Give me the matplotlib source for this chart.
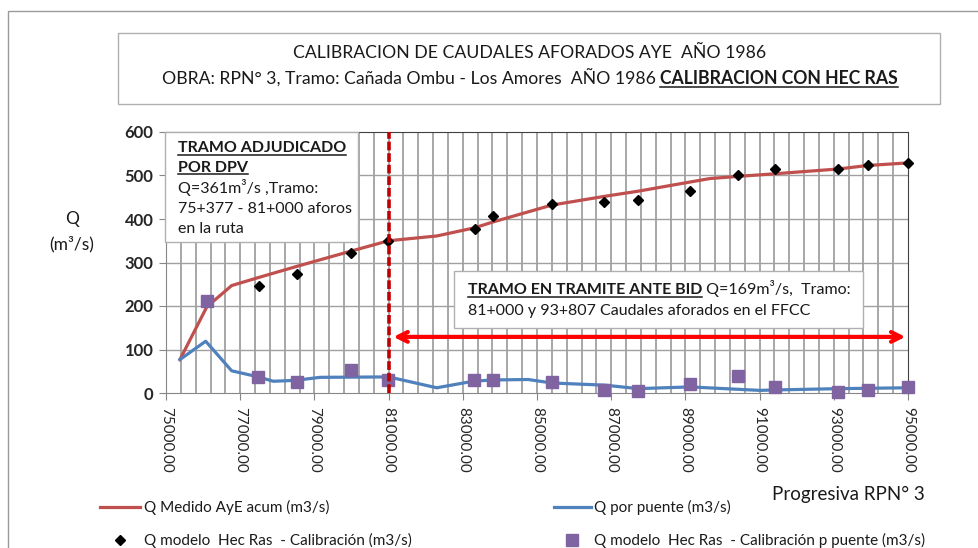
import numpy as np
import matplotlib
matplotlib.use('Agg')
import matplotlib.pyplot as plt
from matplotlib.patches import Rectangle
from matplotlib.lines import Line2D
from matplotlib.ticker import FormatStrFormatter

W, H = 979, 548
plt.rcParams['font.family'] = ['Lato', 'DejaVu Sans']

# Q Medido AyE acumulado
prog_medido = [75377, 76100, 76770, 77515, 78523, 79978, 81000, 82300, 83329, 83806,
               85400, 86814, 87731, 89124, 89663, 90426, 91415, 93121, 93913, 95000]
q_medido = [77, 198, 247, 266, 291, 326, 350, 361, 380, 393,
            432, 452, 464, 485, 493, 498, 504, 515, 523, 529]

# Q por puente
prog_puente = [75377, 76070, 76770, 77488, 77892, 78477, 79151, 81000, 82296, 83280,
               83820, 84760, 85400, 86833, 87731, 89124, 91011, 91415, 93121, 95000]
q_puente = [77, 119, 51, 37, 27, 29, 36, 37, 12, 27,
            30, 31, 23, 18, 10, 14, 6, 7, 10, 12]

# Q modelo Hec Ras - Calibracion
prog_cal = [77515, 78523, 79978, 80992, 83329, 83806, 85400, 86814, 87731, 89124,
            90426, 91415, 93121, 93913, 95000]
q_cal = [246, 273, 322, 349, 378, 408, 435, 440, 444, 464,
         500, 514, 514, 523, 529]

# Q modelo Hec Ras - Calibracion p puente
prog_cal_p = [76097, 77488, 78544, 79978, 80992, 83310, 83806, 85400, 86814, 87731,
              89124, 90410, 91415, 93121, 93913, 95000]
q_cal_p = [211, 37, 25, 52, 29, 31, 31, 26, 8, 5,
           21, 38, 14, 2, 8, 14]

lbl_medido = 'Q Medido AyE acum (m3/s)'
lbl_puente = 'Q por puente (m3/s)'
lbl_cal = 'Q modelo  Hec Ras  - Calibración (m3/s)'
lbl_cal_p = 'Q modelo  Hec Ras  - Calibración p puente (m3/s)'

fig = plt.figure(figsize=(W / 100, H / 100), dpi=100)
renderer = fig.canvas.get_renderer()


def fx(x):
    return x / W


def fy(y):
    return 1 - y / H


def ftext(x, y, s, **kw):
    return fig.text(fx(x), fy(y), s, **kw)


def underline(t, y_base, color='#1a1a1a', lw=1.1):
    bb = t.get_window_extent(renderer)
    yy = fy(y_base + 2.5)
    fig.add_artist(Line2D([bb.x0 / W, bb.x1 / W], [yy, yy], color=color, lw=lw,
                          transform=fig.transFigure, zorder=11))


def width_px(t):
    return t.get_window_extent(renderer).width


# marco general del grafico
fig.add_artist(Rectangle((fx(8), fy(600)), fx(1000), (600 - 11) / H, fill=False,
                         ec='#9a9a9a', lw=1.0, transform=fig.transFigure))

ax = fig.add_axes([fx(166), fy(393), (908 - 166) / W, (393 - 132) / H])

# grilla vertical cada 400 y horizontal cada 100
ax.vlines(np.arange(75400, 95000, 400), 0, 600, colors='#a0a0a0', lw=1.3, zorder=0.5)
ax.hlines(np.arange(100, 600, 100), 75000, 95000, colors='#a0a0a0', lw=1.0, zorder=0.5)

ax.plot(prog_medido, q_medido, color='#C0504D', lw=2.3, label=lbl_medido, zorder=3)
ax.plot(prog_puente, q_puente, color='#4F81BD', lw=2.3, label=lbl_puente, zorder=3)
ax.plot(prog_cal, q_cal, ls='none', marker='D', ms=5, color='black', label=lbl_cal,
        zorder=4, clip_on=False)
ax.plot(prog_cal_p, q_cal_p, ls='none', marker='s', ms=8, color='#8064A2', label=lbl_cal_p,
        zorder=4, clip_on=False)

ax.axvline(81000, color='#C00000', lw=2.6, dashes=(2.4, 0.8), zorder=5)
ax.annotate('', xy=(81130, 129), xytext=(94930, 129),
            arrowprops=dict(arrowstyle='<->,head_length=0.7,head_width=0.35',
                            color='#FF0000', lw=3, shrinkA=0, shrinkB=0), zorder=6)

ax.set_xlim(75000, 95000)
ax.set_ylim(0, 600)
ax.set_xticks(np.arange(75000, 95001, 2000))
ax.set_yticks(np.arange(0, 601, 100))
ax.xaxis.set_major_formatter(FormatStrFormatter('%.2f'))
ax.tick_params(axis='x', which='major', labelrotation=270, length=5, color='#868686',
               labelsize=11, labelcolor='#262626', pad=5)
ax.tick_params(axis='y', length=5, color='#868686', labelsize=12, labelcolor='#262626', pad=4)
for lab in ax.get_yticklabels():
    lab.set_fontweight('bold')
for s in ['left', 'bottom']:
    ax.spines[s].set_color('#868686')
for s in ['top', 'right']:
    ax.spines[s].set_color('#404040')

# titulo
fig.add_artist(Rectangle((fx(118), fy(104)), (940 - 118) / W, (104 - 33) / H, fill=True,
                         fc='white', ec='#b0b0b0', lw=1.0, transform=fig.transFigure))
ftext(530, 58, 'CALIBRACION DE CAUDALES AFORADOS AYE  AÑO 1986', ha='center',
      va='baseline', fontsize=12.7, color='#1a1a1a')
t1 = ftext(0, 84, 'OBRA: RPN° 3, Tramo: Cañada Ombu - Los Amores  AÑO 1986 ', ha='left',
           va='baseline', fontsize=12.7, color='#1a1a1a')
t2 = ftext(0, 84, 'CALIBRACION CON HEC RAS', ha='left', va='baseline', fontsize=12.7,
           fontweight='bold', color='#1a1a1a')
w1, w2 = width_px(t1), width_px(t2)
x0 = 530 - (w1 + w2) / 2
t1.set_x(fx(x0))
t2.set_x(fx(x0 + w1))
underline(t2, 84)

# recuadro tramo adjudicado
fig.add_artist(Rectangle((fx(165), fy(242)), (358 - 165) / W, (242 - 132) / H, fc='white',
                         ec='#b0b0b0', lw=1.0, transform=fig.transFigure, zorder=8))
for txt, yb in [('TRAMO ADJUDICADO', 152), ('POR DPV', 172)]:
    t = ftext(178, yb, txt, ha='left', va='baseline', fontsize=11.5, fontweight='bold',
              color='#1a1a1a', zorder=10)
    underline(t, yb)
for txt, yb in [('Q=361m³/s ,Tramo:', 193), ('75+377 - 81+000 aforos', 213),
                ('en la ruta', 233)]:
    ftext(178, yb, txt, ha='left', va='baseline', fontsize=11.5, color='#1a1a1a', zorder=10)

# recuadro tramo en tramite
fig.add_artist(Rectangle((fx(454), fy(328)), (863 - 454) / W, (328 - 271) / H, fc='white',
                         ec='#b0b0b0', lw=1.0, transform=fig.transFigure, zorder=8))
tb = ftext(468, 294, 'TRAMO EN TRAMITE ANTE BID', ha='left', va='baseline', fontsize=11.5,
           fontweight='bold', color='#1a1a1a', zorder=10)
underline(tb, 294)
ftext(468 + width_px(tb), 294, ' Q=169m³/s,  Tramo:', ha='left', va='baseline',
      fontsize=11.5, color='#1a1a1a', zorder=10)
ftext(468, 315, '81+000 y 93+807 Caudales aforados en el FFCC', ha='left', va='baseline',
      fontsize=11.5, color='#1a1a1a', zorder=10)

# ejes
ftext(72, 224, 'Q', ha='center', va='baseline', fontsize=12.5, color='#1a1a1a')
ftext(72, 249, '(m³/s)', ha='center', va='baseline', fontsize=12.5, color='#1a1a1a')
ftext(848, 500, 'Progresiva RPN° 3', ha='center', va='baseline', fontsize=13.5,
      color='#1a1a1a')

# leyenda
h = ax.get_lines()
h_medido = [l for l in h if l.get_label() == lbl_medido][0]
h_puente = [l for l in h if l.get_label() == lbl_puente][0]
h_cal = [l for l in h if l.get_label() == lbl_cal][0]
h_cal_p = [l for l in h if l.get_label() == lbl_cal_p][0]
leg1 = fig.legend([h_medido, h_cal], [lbl_medido, lbl_cal], loc='upper left',
                  bbox_to_anchor=(fx(100), fy(500)), frameon=False, fontsize=11,
                  handlelength=2.6, handletextpad=0.25, labelspacing=1.2, borderpad=0,
                  borderaxespad=0)
leg2 = fig.legend([h_puente, h_cal_p], [lbl_puente, lbl_cal_p], loc='upper left',
                  bbox_to_anchor=(fx(554), fy(500)), frameon=False, fontsize=11,
                  handlelength=2.4, handletextpad=0.25, labelspacing=1.2, borderpad=0,
                  borderaxespad=0)
for leg in (leg1, leg2):
    for t in leg.get_texts():
        t.set_color('#1a1a1a')

fig.savefig('out.png', dpi=100)
